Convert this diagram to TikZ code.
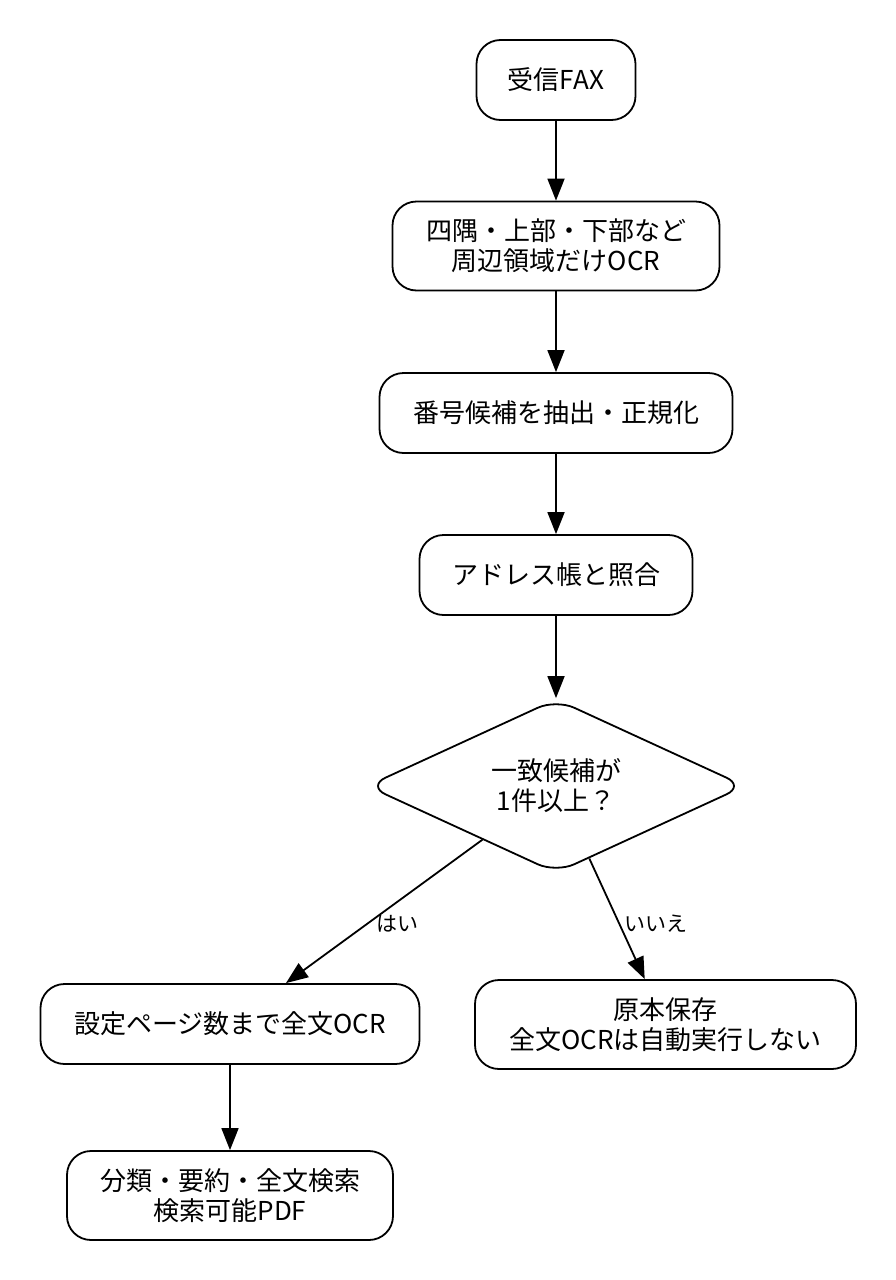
\documentclass[tikz,border=0pt]{standalone}
\usepackage{fontspec}
\setmainfont{Noto Sans CJK JP}
\usetikzlibrary{shapes.geometric,arrows.meta}
\begin{document}
\begin{tikzpicture}[x=1pt,y=-1pt,
  box/.style={draw, line width=1.8pt, rounded corners=24pt, align=center,
    font=\fontsize{26}{30}\selectfont, inner sep=0pt},
  dec/.style={draw, diamond, shape aspect=2.2, line width=1.8pt, rounded corners=20pt, align=center,
    font=\fontsize{26}{30}\selectfont, inner sep=0pt, minimum width=378pt, minimum height=174pt},
  arr/.style={line width=1.8pt, -{Triangle[length=22pt,width=17pt]}},
  lbl/.style={font=\fontsize{21}{24}\selectfont, inner sep=0pt}]
\useasboundingbox (0,0) rectangle (896,1280);
\node[box, minimum width=159pt, minimum height=80pt] (n1) at (556,80) {受信FAX};
\node[box, minimum width=327pt, minimum height=89pt] (n2) at (556,246) {四隅・上部・下部など\\周辺領域だけOCR};
\node[box, minimum width=353pt, minimum height=80pt] (n3) at (556,413) {番号候補を抽出・正規化};
\node[box, minimum width=273pt, minimum height=80pt] (n4) at (556,575) {アドレス帳と照合};
\node[dec] (d) at (556,786) {一致候補が\\1件以上？};
\node[box, minimum width=379pt, minimum height=80pt] (n6) at (230,1024) {設定ページ数まで全文OCR};
\node[box, minimum width=381pt, minimum height=89pt] (n7) at (665.5,1024.5) {原本保存\\全文OCRは自動実行しない};
\node[box, minimum width=326pt, minimum height=89pt] (n8) at (230,1195.5) {分類・要約・全文検索\\検索可能PDF};
\draw[arr] (n1) -- (n2);
\draw[arr] (n2) -- (n3);
\draw[arr] (n3) -- (n4);
\draw[arr] (n4) -- (d);
\draw[arr] (d) -- (n6);
\draw[arr] (d) -- (n7);
\draw[arr] (n6) -- (n8);
\node[lbl] (l1) at (397,924) {はい};
\node[lbl] (l2) at (656,924) {いいえ};
\end{tikzpicture}
\end{document}
